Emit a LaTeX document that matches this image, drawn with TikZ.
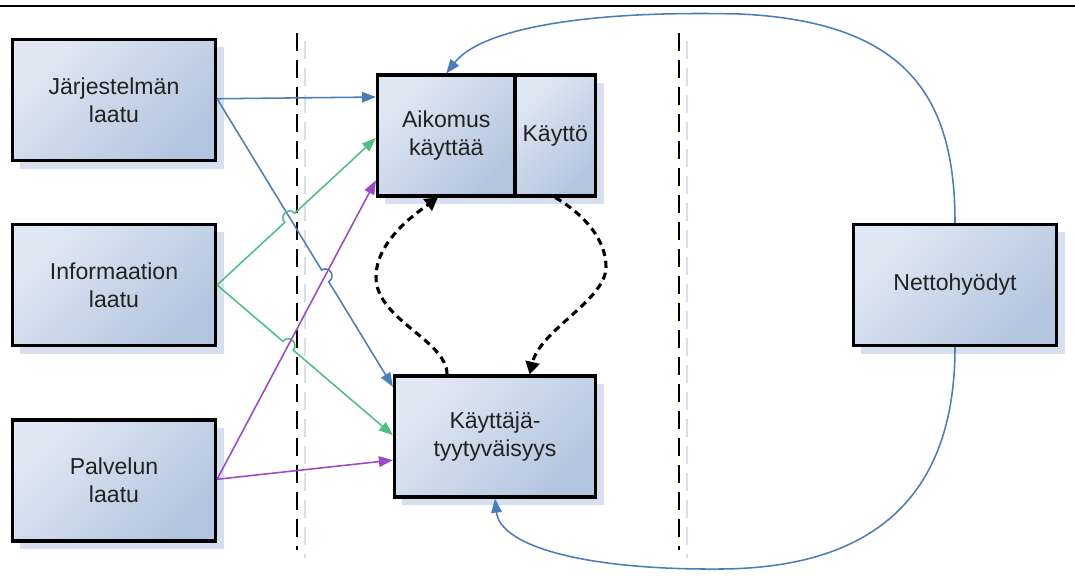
\documentclass[tikz,border=0pt]{standalone}
\usepackage{fontspec}
\setmainfont{Liberation Sans}
\usetikzlibrary{arrows.meta,calc,shadows}

\definecolor{boxlight}{HTML}{E0E8F4}
\definecolor{boxdark}{HTML}{B3C5DE}
\definecolor{shadowblue}{HTML}{D5DFEE}
\definecolor{linkblue}{HTML}{4A7EBB}
\definecolor{linkgreen}{HTML}{4DBF80}
\definecolor{linkpurple}{HTML}{9A48C8}
\definecolor{textgray}{HTML}{222222}

\newcommand\hopr{0.17cm}
\newcommand\hopc{0.227cm}
% straight connector from #2 to #4 with a small hop at crossing point #3
\newcommand\hopline[4]{%
  \coordinate (hA) at ($(#3)!\hopr!(#2)$);
  \coordinate (hB) at ($(#3)!\hopr!(#4)$);
  \draw[link,#1] (#2) -- (hA)
    .. controls ($(hA)!\hopc!90:(#4)$) and ($(hB)!\hopc!-90:(#2)$) .. (hB) -- (#4);
}

\begin{document}
\begin{tikzpicture}[x=0.025cm, y=-0.025cm,
  box/.style={draw=black, line width=2.2pt, rectangle,
    top color=boxlight, bottom color=boxdark, shading angle=45,
    minimum width=5.075cm, minimum height=3.025cm, inner sep=2pt,
    align=center, text=textgray, font=\fontsize{16.4}{19.9}\selectfont,
    drop shadow={shadow xshift=0.2cm, shadow yshift=-0.2cm, fill=shadowblue, opacity=1}},
  link/.style={line width=1.1pt, -{Triangle[length=10pt,width=7.5pt]}},
  loopline/.style={black, line width=2.2pt, dash pattern=on 5pt off 3.5pt,
    -{Triangle[length=9pt,width=10pt]}},
  sepline/.style={black, line width=1.8pt, dash pattern=on 12.8pt off 6.4pt},
  sepshade/.style={shadowblue, line width=1.8pt, dash pattern=on 12.8pt off 6.4pt},
]
\useasboundingbox (0,0) rectangle (1075,575);

% top rule
\draw[line width=1.8pt] (0,6) -- (1075,6);

% column separators with their light shadows
\coordinate (s1a) at (297,33);  \coordinate (s1b) at (297,550);
\coordinate (s2a) at (679,33);  \coordinate (s2b) at (679,550);
\draw[sepshade] ($(s1a)+(8,8)$) -- ($(s1b)+(8,8)$);
\draw[sepshade] ($(s2a)+(8,8)$) -- ($(s2b)+(8,8)$);
\draw[sepline] (s1a) -- (s1b);
\draw[sepline] (s2a) -- (s2b);

% boxes
\node[box] (jl) at (114,100)   {Järjestelmän\\laatu};
\node[box] (il) at (114,285)   {Informaation\\laatu};
\node[box] (pl) at (114,480.5) {Palvelun\\laatu};
\node[box, minimum width=3.4375cm] (ak) at (446.25,135.5) {Aikomus\\käyttää};
\node[box, minimum width=2.0125cm] (ky) at (555.25,135.5) {Käyttö};
\node[box, minimum width=5.025cm] (kt) at (495,436.5) {Käyttäjä-\\tyytyväisyys};
\node[box] (nh) at (955,285) {Nettohyödyt};

% connector end points on the box sides
\coordinate (js)  at ($(jl.north east)!0.49!(jl.south east)$);
\coordinate (ae1) at ($(ak.north west)!0.19!(ak.south west)$);
\coordinate (ke1) at ($(kt.north west)!0.10!(kt.south west)$);
\coordinate (is)  at (il.east);
\coordinate (ae2) at ($(ak.north west)!0.52!(ak.south west)$);
\coordinate (ke2) at ($(kt.north west)!0.49!(kt.south west)$);
\coordinate (ps)  at ($(pl.north east)!0.49!(pl.south east)$);
\coordinate (ae3) at ($(ak.north west)!0.86!(ak.south west)$);
\coordinate (ke3) at ($(kt.north west)!0.69!(kt.south west)$);

% crossings that get a hop
\coordinate (xbp) at (intersection of js--ke1 and ps--ae3);
\coordinate (xgb) at (intersection of is--ae2 and js--ke1);
\coordinate (xgp) at (intersection of is--ke2 and ps--ae3);

% quality links
\draw[link, linkblue] (js) -- (ae1);
\hopline{linkblue}{js}{xbp}{ke1}
\hopline{linkgreen}{is}{xgb}{ae2}
\hopline{linkgreen}{is}{xgp}{ke2}
\draw[link, linkpurple] (ps) -- (ae3);
\draw[link, linkpurple] (ps) -- (ke3);

% use / satisfaction loop
\coordinate (kta) at ($(kt.north west)!0.265!(kt.north east)$);
\coordinate (ktb) at ($(kt.north west)!0.67!(kt.north east)$);
\coordinate (aka) at ($(ak.south west)!0.44!(ak.south east)$);
\draw[loopline] (kta) .. controls (447,340) and (376,320) .. (376,277)
  .. controls (376,240) and (418,212) .. (aka);
\draw[loopline] (ky.south) .. controls (585,215) and (606,240) .. (606,267)
  .. controls (606,300) and (540,330) .. (ktb);

% net benefits feedback
\draw[link, linkblue] (nh.north) .. controls (955,100) and (910,22) .. (740,14)
  .. controls (580,10) and (480,30) .. (ak.north);
\draw[link, linkblue] (nh.south) .. controls (955,470) and (900,568) .. (720,569)
  .. controls (580,570) and (500,545) .. (kt.south);
\end{tikzpicture}
\end{document}
